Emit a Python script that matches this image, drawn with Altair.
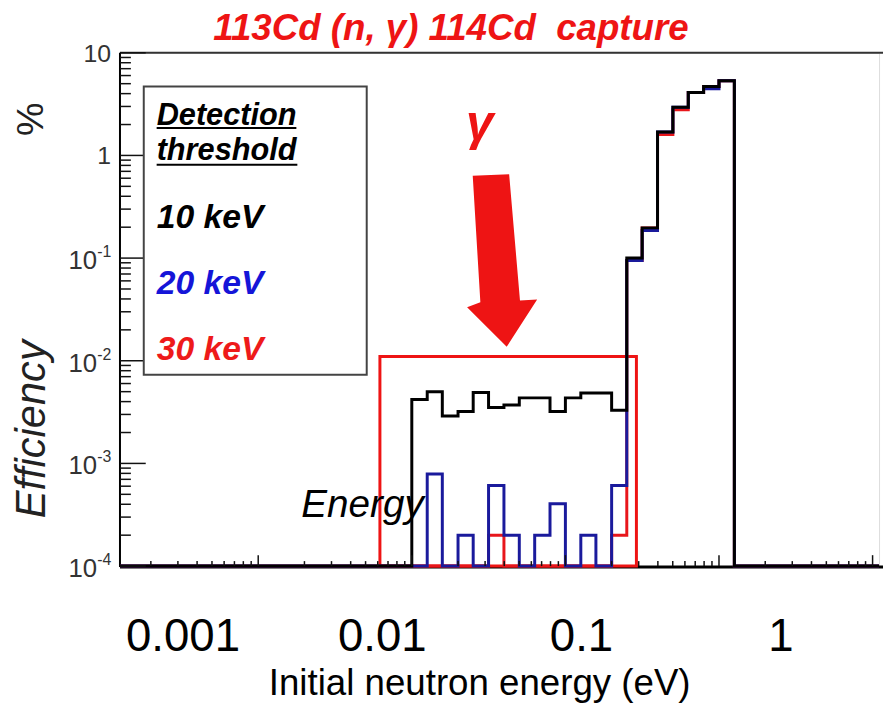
import altair as alt
import pandas as pd

# ---------------- data ----------------
# bin edges of the histograms, eV (0.1-decade bins)
BIN_EDGES_EV = [0.0100, 0.0126, 0.0158, 0.0200, 0.0251, 0.0316, 0.0398, 0.0501,
                0.0631, 0.0794, 0.100, 0.126, 0.158, 0.200, 0.251, 0.316,
                0.398, 0.501, 0.631, 0.794, 1.000, 1.259]
# efficiency (%) per bin for the three detection thresholds
EFF_10KEV = [4.2e-3, 5.0e-3, 2.9e-3, 3.2e-3, 4.9e-3, 3.5e-3, 3.7e-3, 4.35e-3,
             4.35e-3, 3.2e-3, 4.35e-3, 4.85e-3, 4.85e-3, 3.3e-3,
             0.100, 0.197, 1.69, 2.94, 4.11, 4.70, 5.33]
EFF_20KEV = [0, 7.9e-4, 0, 2.0e-4, 0, 6.1e-4, 2.0e-4, 0,
             2.0e-4, 4.05e-4, 0, 2.0e-4, 0, 6.1e-4,
             0.0946, 0.186, 1.69, 2.94, 4.11, 4.45, 5.33]
EFF_30KEV = [0, 0, 0, 0, 0, 2.0e-4, 0, 0,
             0, 0, 0, 0, 0, 2.0e-4,
             0.0946, 0.197, 1.60, 2.78, 4.11, 4.70, 5.33]
SERIES_LABELS = ["10 keV", "20 keV", "30 keV"]
SERIES_COLORS = ["#000000", "#1a1a9c", "#e8161b"]
LEGEND_TEXT_COLORS = ["#000000", "#1515d8", "#ee1a1a"]

X_LABEL_VALUES = [0.001, 0.01, 0.1, 1]
X_LABEL_TEXT = ["0.001", "0.01", "0.1", "1"]
Y_DECADES = [10, 1, 0.1, 0.01, 0.001, 0.0001]
Y_LABEL_BASE = ["10", "1", "10", "10", "10", "10"]
Y_LABEL_EXP = ["", "", "-1", "-2", "-3", "-4"]

BOX_X = [0.0062, 0.29]
BOX_Y_TOP = 0.011

TITLE = "113Cd (n, \u03b3) 114Cd \u00a0capture"

# ---------------- layout ----------------
W, H = 766, 518
X_DOMAIN = [10 ** -3.90, 10 ** 1.042]
Y_DOMAIN = [1e-4, 10.0]
XL_DOMAIN = [10 ** -3.316, 10 ** 0.4928]   # placement of the pasted big tick labels
FONT = "Liberation Sans"
RED = "#ee1414"

xs = alt.Scale(type="log", domain=X_DOMAIN, nice=False)
ys = alt.Scale(type="log", domain=Y_DOMAIN, nice=False)
one = pd.DataFrame({"k": [0]})


def note(text, x, y, **kw):
    return alt.Chart(one).mark_text(text=text, font=FONT, **kw).encode(
        x=alt.value(x), y=alt.value(y))


def hrule(y, x0, x1, color, w):
    return alt.Chart(one).mark_rule(color=color, strokeWidth=w).encode(
        x=alt.value(x0), x2=alt.value(x1), y=alt.value(y))


def step_points(vals):
    floor = Y_DOMAIN[0]
    pts = [(X_DOMAIN[0], floor)]
    for e, v in zip(BIN_EDGES_EV[:-1], vals):
        pts.append((e, max(v, floor)))
    pts.append((BIN_EDGES_EV[-1], max(vals[-1], floor)))
    pts.append((BIN_EDGES_EV[-1], floor))
    pts.append((X_DOMAIN[1], floor))
    return pd.DataFrame({"e": [p[0] for p in pts], "eff": [p[1] for p in pts],
                         "i": list(range(len(pts)))})


def hist_layer(vals, color):
    return alt.Chart(step_points(vals)).mark_line(
        interpolate="step-after", color=color, strokeWidth=3, strokeJoin="miter"
    ).encode(
        x=alt.X("e:Q", scale=xs, axis=None),
        y=alt.Y("eff:Q", scale=ys, axis=None),
        order=alt.Order("i:Q"),
    )


# frame
frame = [
    hrule(H + 1, 0, 770, "#000000", 3),
    hrule(0, 0, 770, "#333333", 2),
    alt.Chart(one).mark_rule(color="#000000", strokeWidth=2).encode(
        x=alt.value(0), y=alt.value(0), y2=alt.value(H + 1)),
]

# ticks
y_major = pd.DataFrame({"v": Y_DECADES})
y_minor = pd.DataFrame({"v": [k * 10.0 ** n for n in range(-4, 1) for k in range(2, 10)]})
x_major = pd.DataFrame({"v": [0.001, 0.01, 0.1, 1, 10]})
x_minor = pd.DataFrame({"v": [k * 10.0 ** n for n in range(-4, 2) for k in range(2, 10)
                              if X_DOMAIN[0] <= k * 10.0 ** n <= X_DOMAIN[1]]})

ticks = [
    alt.Chart(y_major).mark_rule(color="#111", strokeWidth=1.5).encode(
        y=alt.Y("v:Q", scale=ys, axis=None), x=alt.value(0), x2=alt.value(26)),
    alt.Chart(y_minor).mark_rule(color="#111", strokeWidth=1.5).encode(
        y=alt.Y("v:Q", scale=ys, axis=None), x=alt.value(0), x2=alt.value(11)),
    alt.Chart(x_major).mark_rule(color="#111", strokeWidth=1.5).encode(
        x=alt.X("v:Q", scale=xs, axis=None), y=alt.value(H), y2=alt.value(H - 11)),
    alt.Chart(x_minor).mark_rule(color="#111", strokeWidth=1.5).encode(
        x=alt.X("v:Q", scale=xs, axis=None), y=alt.value(H), y2=alt.value(H - 5)),
]

# y tick labels
ylab = pd.DataFrame({"v": Y_DECADES, "base": Y_LABEL_BASE, "exp": Y_LABEL_EXP})
ylabels = [
    alt.Chart(ylab).transform_filter("datum.exp == ''").mark_text(
        align="right", baseline="middle", fontSize=25, font=FONT, color="#333", dy=1
    ).encode(y=alt.Y("v:Q", scale=ys, axis=None), x=alt.value(-9), text="base:N"),
    alt.Chart(ylab).transform_filter("datum.exp != ''").mark_text(
        align="right", baseline="middle", fontSize=26, font=FONT, color="#333", dy=3
    ).encode(y=alt.Y("v:Q", scale=ys, axis=None), x=alt.value(-23), text="base:N"),
    alt.Chart(ylab).transform_filter("datum.exp != ''").mark_text(
        align="left", baseline="middle", fontSize=16, font=FONT, color="#333", dy=-6
    ).encode(y=alt.Y("v:Q", scale=ys, axis=None), x=alt.value(-23), text="exp:N"),
]

# x tick labels (big pasted labels)
xlab = pd.DataFrame({"v": X_LABEL_VALUES, "t": X_LABEL_TEXT})
xlabels = alt.Chart(xlab).mark_text(
    align="center", baseline="alphabetic", fontSize=46, font=FONT, color="#000"
).encode(
    x=alt.X("v:Q", scale=alt.Scale(type="log", domain=XL_DOMAIN, nice=False), axis=None),
    y=alt.value(604), text="t:N")

# red box
box_df = pd.DataFrame({"x0": [BOX_X[0]], "x1": [BOX_X[1]], "y0": [Y_DOMAIN[0]], "y1": [BOX_Y_TOP]})
box = alt.Chart(box_df).mark_rect(fillOpacity=0, stroke=RED, strokeWidth=3).encode(
    x=alt.X("x0:Q", scale=xs, axis=None), x2="x1:Q",
    y=alt.Y("y0:Q", scale=ys, axis=None), y2="y1:Q")

# arrow
ARROW_PATH = ("M -0.286 -0.983 L 0.134 -0.998 L 0.259 0.457 L 0.457 0.446 "
              "L 0.106 0.991 L -0.351 0.534 L -0.198 0.477 Z")
arrow = alt.Chart(one).mark_point(
    shape=ARROW_PATH, size=30625, filled=True, color=RED, opacity=1, strokeWidth=0
).encode(x=alt.value(381), y=alt.value(210))

# legend box
legend = [
    alt.Chart(one).mark_rect(fill="white", stroke="#444", strokeWidth=2).encode(
        x=alt.value(24), x2=alt.value(249), y=alt.value(34), y2=alt.value(325)),
    note("Detection", 37, 73, align="left", baseline="alphabetic", fontSize=31,
         fontWeight="bold", fontStyle="italic", color="#000"),
    note("threshold", 37, 108, align="left", baseline="alphabetic", fontSize=31,
         fontWeight="bold", fontStyle="italic", color="#000"),
    hrule(76, 37, 178, "#000", 2),
    hrule(113, 37, 179, "#000", 2),
]
for lbl, col, yb in zip(SERIES_LABELS, LEGEND_TEXT_COLORS, [177, 243, 310]):
    legend.append(note(lbl, 37, yb, align="left", baseline="alphabetic", fontSize=34,
                       fontWeight="bold", fontStyle="italic", color=col))

texts = [
    note(TITLE, 334, -13, align="center", baseline="alphabetic", fontSize=37,
         fontWeight="bold", fontStyle="italic", color=RED),
    note("\u03b3", 363, 88, align="center", baseline="alphabetic", fontSize=50,
         fontWeight="bold", fontStyle="italic", color=RED),
    note("Energy", 183, 468, align="left", baseline="alphabetic", fontSize=39,
         fontStyle="italic", color="#000"),
    note("%", -89, 67, align="center", baseline="middle", fontSize=38, angle=270,
         color="#222"),
    note("Efficiency", -89, 380, align="center", baseline="middle", fontSize=42,
         fontStyle="italic", angle=270, color="#222"),
    note("Initial neutron energy (eV)", 363, 648, align="center", baseline="alphabetic",
         fontSize=37, color="#000"),
]

hists = [hist_layer(EFF_30KEV, SERIES_COLORS[2]),
         hist_layer(EFF_20KEV, SERIES_COLORS[1]),
         hist_layer(EFF_10KEV, SERIES_COLORS[0])]

chart = alt.layer(
    *frame, box, *hists, *ticks, *ylabels, xlabels, arrow, *legend, *texts
).resolve_scale(x="independent").properties(
    width=W, height=H,
    padding={"left": 113, "top": 42, "right": 4, "bottom": 136},
    autosize=alt.AutoSizeParams(type="none"),
).configure_view(stroke=None).configure(background="white")

chart.save("out.html", embed_options={"renderer": "svg", "actions": False})
